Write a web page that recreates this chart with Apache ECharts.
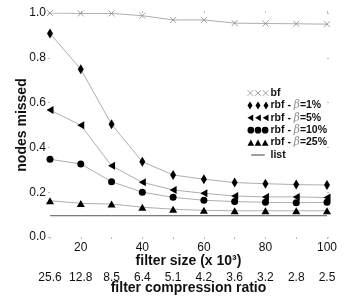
<!DOCTYPE html>
<html><head><meta charset="utf-8">
<script src="https://cdn.jsdelivr.net/npm/echarts@6/dist/echarts.min.js"></script>
<style>html,body{margin:0;padding:0;background:#fff}#c{width:354px;height:304px}</style>
</head><body><div id="c"></div>
<script>
var filterSize = [10, 20, 30, 40, 50, 60, 70, 80, 90, 100];
var sizeTicks = [20, 40, 60, 80, 100];
var ratioLabels = ['25.6', '12.8', '8.5', '6.4', '5.1', '4.2', '3.6', '3.2', '2.8', '2.5'];
var yTicks = [0, 0.2, 0.4, 0.6, 0.8, 1.0];
var bf = [1.0, 0.998, 0.998, 0.988, 0.969, 0.969, 0.955, 0.953, 0.952, 0.950];
var rbf1 = [0.909, 0.749, 0.503, 0.336, 0.277, 0.258, 0.243, 0.238, 0.234, 0.232];
var rbf5 = [0.567, 0.499, 0.318, 0.244, 0.210, 0.195, 0.183, 0.179, 0.179, 0.176];
var rbf10 = [0.347, 0.326, 0.247, 0.200, 0.177, 0.164, 0.158, 0.155, 0.153, 0.155];
var rbf25 = [0.162, 0.150, 0.147, 0.133, 0.124, 0.119, 0.117, 0.117, 0.117, 0.117];
var list = [0.095, 0.095, 0.095, 0.095, 0.095, 0.095, 0.095, 0.095, 0.095, 0.095];
var names = ['bf', 'rbf - β=1%', 'rbf - β=5%', 'rbf - β=10%', 'rbf - β=25%', 'list'];

function pairs(arr) { return filterSize.map(function (x, i) { return [x, arr[i]]; }); }

var FONT = '"Liberation Sans", Arial, Helvetica, sans-serif';
var tickGray = '#bbb';

var icons = {
  cross: 'path://M0,1L6,7M0,7L6,1M8,1L14,7M8,7L14,1M16,1L22,7M16,7L22,1',
  diamond: 'path://M2.5,0L5,4L2.5,8L0,4ZM10.5,0L13,4L10.5,8L8,4ZM18.5,0L21,4L18.5,8L16,4Z',
  left: 'path://M0,4L6,0.5L6,7.5ZM8,4L14,0.5L14,7.5ZM16,4L22,0.5L22,7.5Z',
  circle: 'path://M0,4a3.5,3.5 0 1,0 7,0a3.5,3.5 0 1,0 -7,0ZM7.5,4a3.5,3.5 0 1,0 7,0a3.5,3.5 0 1,0 -7,0ZM15,4a3.5,3.5 0 1,0 7,0a3.5,3.5 0 1,0 -7,0Z',
  up: 'path://M0,7.5L3.5,1L7,7.5ZM7.5,7.5L11,1L14.5,7.5ZM15,7.5L18.5,1L22,7.5Z',
  line: 'path://M0,0L0,0M4,3.5L18,3.5L18,4.5L4,4.5ZM22,8L22,8'
};

function mkSeries(name, arr, symbol, size, rotate) {
  return {
    name: name, type: 'line', data: pairs(arr), xAxisIndex: 0, yAxisIndex: 0,
    symbol: symbol, symbolSize: size, symbolRotate: rotate || 0,
    showSymbol: true,
    lineStyle: { color: '#999', width: 0.8 },
    itemStyle: { color: '#000' },
    emphasis: { disabled: true }, silent: true
  };
}

var series = [
  {
    name: names[0], type: 'line', data: pairs(bf), xAxisIndex: 0, yAxisIndex: 0,
    symbol: 'path://M0,0L8,8M0,8L8,0', symbolSize: 6,
    lineStyle: { color: '#999', width: 0.8 },
    itemStyle: { color: 'none', borderColor: '#888', borderWidth: 0.8 },
    emphasis: { disabled: true }, silent: true
  },
  mkSeries(names[1], rbf1, 'diamond', [6, 10]),
  mkSeries(names[2], rbf5, 'triangle', [8, 7], 90),
  mkSeries(names[3], rbf10, 'circle', 7),
  mkSeries(names[4], rbf25, 'triangle', [8, 7]),
  {
    name: names[5], type: 'line', data: pairs(list), xAxisIndex: 0, yAxisIndex: 0,
    symbol: 'none', lineStyle: { color: '#555', width: 1 },
    itemStyle: { color: '#555' }, emphasis: { disabled: true }, silent: true
  }
];

var legendData = [
  { name: names[0], icon: icons.cross, itemStyle: { color: 'none', borderColor: '#888', borderWidth: 0.8 } },
  { name: names[1], icon: icons.diamond, itemStyle: { color: '#000', borderWidth: 0 } },
  { name: names[2], icon: icons.left, itemStyle: { color: '#000', borderWidth: 0 } },
  { name: names[3], icon: icons.circle, itemStyle: { color: '#000', borderWidth: 0 } },
  { name: names[4], icon: icons.up, itemStyle: { color: '#000', borderWidth: 0 } },
  { name: names[5], icon: icons.line, itemStyle: { color: '#333', borderWidth: 0 } }
];

var chart = echarts.init(document.getElementById('c'), null, { renderer: 'canvas' });
chart.setOption({
  animation: false,
  backgroundColor: '#fff',
  grid: { left: 50, right: 27, top: 13, bottom: 67, containLabel: false },
  legend: {
    orient: 'vertical', left: 245, top: 87, padding: 0,
    itemWidth: 21, itemHeight: 8, itemGap: 0.4,
    selectedMode: false,
    data: legendData,
    formatter: function (n) {
      var i = n.indexOf('β');
      if (i < 0) return '{b|' + n + '}';
      return '{b|' + n.slice(0, i) + '}{g|β}{b|' + n.slice(i + 1) + '}';
    },
    textStyle: {
      fontFamily: FONT, fontSize: 10.5, lineHeight: 12, color: '#111', padding: [0, 0, 0, -3],
      rich: {
        b: { fontFamily: FONT, fontSize: 10.5, fontWeight: 'bold', color: '#111', lineHeight: 12 },
        g: { fontFamily: '"DejaVu Serif", serif', fontSize: 10.5, fontStyle: 'italic', color: '#888', lineHeight: 12 }
      }
    }
  },
  xAxis: [
    {
      type: 'value', position: 'bottom', min: 10, max: 100, interval: 10,
      name: 'filter size (x 10³)', nameLocation: 'middle', nameGap: 17, nameMoveOverlap: false,
      nameTextStyle: { fontFamily: FONT, fontSize: 14, fontWeight: 'bold', color: '#111' },
      axisLine: { show: false },
      axisTick: { show: true, inside: false, length: 2, customValues: sizeTicks, lineStyle: { color: tickGray } },
      axisLabel: { customValues: sizeTicks, margin: 5, fontFamily: FONT, fontSize: 12, color: '#111' },
      splitLine: { show: false }
    },
    {
      type: 'category', position: 'bottom', offset: 29, boundaryGap: false, data: ratioLabels,
      name: 'filter compression ratio', nameLocation: 'middle', nameGap: 15, nameMoveOverlap: false,
      nameTextStyle: { fontFamily: FONT, fontSize: 14, fontWeight: 'bold', color: '#111' },
      axisLine: { show: false },
      axisTick: { show: true, length: 2, interval: 0, lineStyle: { color: tickGray } },
      axisLabel: { margin: 6, interval: 0, fontFamily: FONT, fontSize: 12, color: '#111' },
      splitLine: { show: false }
    },
    {
      type: 'value', position: 'top', min: 10, max: 100, interval: 10,
      axisLine: { show: false },
      axisTick: { show: true, length: 2, customValues: sizeTicks, lineStyle: { color: tickGray } },
      axisLabel: { show: false }, splitLine: { show: false }
    }
  ],
  yAxis: [
    {
      type: 'value', position: 'left', min: 0, max: 1, interval: 0.2,
      name: 'nodes missed', nameLocation: 'middle', nameGap: 21, nameMoveOverlap: false,
      nameTextStyle: { fontFamily: FONT, fontSize: 14, fontWeight: 'bold', color: '#111' },
      axisLine: { show: false },
      axisTick: { show: true, length: 2, lineStyle: { color: tickGray } },
      axisLabel: { margin: 4, fontFamily: FONT, fontSize: 12, color: '#111',
        formatter: function (v) { return v.toFixed(1); } },
      splitLine: { show: false }
    },
    {
      type: 'value', position: 'right', min: 0, max: 1, interval: 0.2,
      axisLine: { show: false },
      axisTick: { show: true, length: 2, lineStyle: { color: tickGray } },
      axisLabel: { show: false }, splitLine: { show: false }
    }
  ],
  series: series
});
</script>
</body></html>
